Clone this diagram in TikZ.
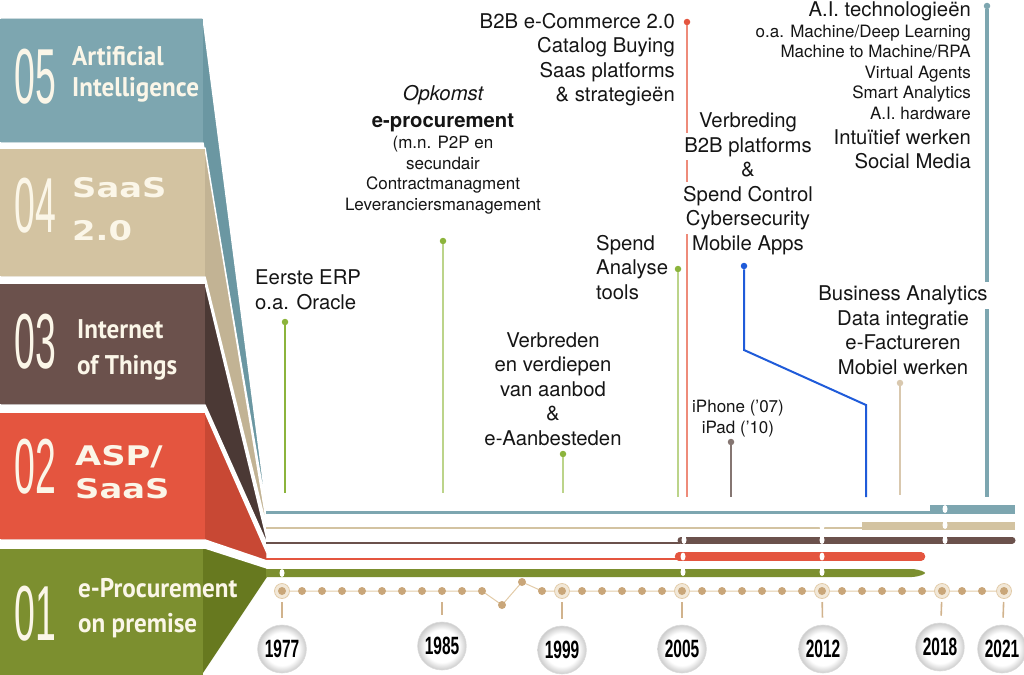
\documentclass[tikz,border=0pt]{standalone}
\usepackage{fontspec}
\setmainfont{TeX Gyre Heros}
\newfontfamily\numfont[FakeStretch=0.48]{Liberation Sans}
\newfontfamily\titlefont[FakeStretch=0.93]{PT Sans}
\newfontfamily\widefont[FakeStretch=1.25]{DejaVu Sans}
\newfontfamily\yearfont[FakeStretch=0.62]{Liberation Sans}
\usetikzlibrary{shapes.geometric}

\definecolor{tealA}{HTML}{7DA6B0}
\definecolor{tealB}{HTML}{6B97A2}
\definecolor{tanA}{HTML}{D3C3A1}
\definecolor{tanB}{HTML}{C2B394}
\definecolor{brownA}{HTML}{6B514C}
\definecolor{brownB}{HTML}{4B3935}
\definecolor{redA}{HTML}{E4553F}
\definecolor{redB}{HTML}{C84834}
\definecolor{greenA}{HTML}{7C8F2F}
\definecolor{greenB}{HTML}{67791F}
\definecolor{cream}{HTML}{FBF6E8}
\definecolor{gold}{HTML}{C9A679}
\definecolor{goldline}{HTML}{E2CBA8}
\definecolor{leaf}{HTML}{8CB43C}
\definecolor{leaflight}{HTML}{BCD48A}
\definecolor{salmon}{HTML}{EE8B7A}
\definecolor{mocha}{HTML}{857672}
\definecolor{royal}{HTML}{1F5BD9}
\definecolor{sand}{HTML}{D9C8AE}
\definecolor{ink}{HTML}{151515}

\pgfdeclareradialshading{yearball}{\pgfpoint{0bp}{0bp}}{color(0bp)=(white); color(17bp)=(white); color(25bp)=(black!20); color(50bp)=(black!20)}

\newcommand\wb[1]{\smash{\fboxsep=4pt\colorbox{white}{#1}}}

\tikzset{
  every node/.style={inner sep=0pt, text=ink},
  big/.style={font=\fontsize{20.3}{24.5}\selectfont},
  small/.style={font=\fontsize{17}{20.4}\selectfont},
  bandnum/.style={font=\numfont\fontsize{78}{78}\selectfont, text=cream, anchor=base west},
  bandtitle/.style={font=\titlefont\bfseries\fontsize{27}{31}\selectfont, text=cream, anchor=base west},
  bandwide/.style={font=\widefont\bfseries\fontsize{27}{31}\selectfont, text=cream, anchor=base west},
  stemdot/.style={circle, fill=#1, minimum size=6.5pt},
  tldot/.style={circle, fill=gold, minimum size=8pt},
  ring/.style={circle, fill=goldline!45, draw=goldline, line width=0.8pt, minimum size=15pt},
  hilite/.style={ellipse, fill=white, minimum width=5pt, minimum height=8pt},
  year/.style={ellipse, shade, shading=yearball, draw=black!14, line width=0.6pt,
    minimum width=39pt, minimum height=48pt, text=black,
    font=\yearfont\bfseries\fontsize{25}{25}\selectfont}
}

\begin{document}
\begin{tikzpicture}[x=1pt, y=-1pt]
\useasboundingbox (0,0) rectangle (1024,674);

\foreach \nm/\ytop/\ybot/\ya/\yb/\cA/\cB/\xr in {ai/18/143/510/514.5/tealA/tealB/203,
    saas/148/277/524.5/529/tanA/tanB/205, iot/283/405/539.5/544/brownA/brownB/205,
    asp/412/540/553/561/redA/redB/205} {
  \filldraw[fill=\cB, draw=white, line width=1.5pt, line join=round]
    (0,\ytop) -- (\xr,\ytop) -- (267,\ya) -- (267,\yb) -- (\xr,\ybot) -- (0,\ybot) -- cycle;
  \fill[\cA] (0,\ytop+1) rectangle (\xr,\ybot-1);
}
\filldraw[fill=greenB, draw=white, line width=1.5pt, line join=round]
  (0,548) -- (205,548) -- (267,568) -- (268,577) -- (202,676) -- (0,676) -- cycle;
\fill[greenA] (0,549) rectangle (203,676);

\foreach \nm/\num/\y in {ai/05/104, saas/04/232, iot/03/368, asp/02/493, ep/01/640}
  \node[bandnum] (\nm num) at (14,\y) {\num};
\foreach \x/\y/\txt [count=\i] in {72/66/Artificial, 72/96/Intelligence, 77/338/Internet,
    77/374/of Things, 78/597/e-Procurement, 78/632/on premise}
  \node[bandtitle] (title\i) at (\x,\y) {\txt};
\node[bandwide] (saas1) at (72,197) {SaaS};
\node[bandwide] (saas2) at (72,240) {2.0};
\node[bandwide] (asp1) at (75,465) {ASP/};
\node[bandwide] (asp2) at (75,498) {SaaS};

\draw[tealA, line width=2.2pt] (266,512.5) -- (930,512.5);
\fill[tealA] (930,505) rectangle (1015,514);
\draw[tanA, line width=2pt] (266,527.5) -- (862,527.5);
\fill[tanA] (862,522) rectangle (1015,530);
\draw[brownA, line width=2pt] (266,542.5) -- (680,542.5);
\draw[brownA, line width=7pt, line cap=round] (681,540) -- (1012,540);
\draw[redA, line width=2pt] (266,558.5) -- (678,558.5);
\draw[redA, line width=8.5pt, line cap=round] (679,556.5) -- (921,556.5);
\fill[greenA] (266,569) -- (912,569) .. controls (920,569.5) and (925,572) .. (925,573)
  .. controls (925,574) and (920,576.5) .. (912,577) -- (266,577) -- cycle;
\foreach \x/\y [count=\i] in {282/573, 683/572, 822/572, 683/556.5, 822/556.5, 684/540,
    822/540, 945/540, 822/526.5, 945/525, 945/509}
  \node[hilite] (hl\i) at (\x,\y) {};

\foreach \nm/\x/\ytop/\ybot/\dotcol/\col/\w in {erp/285/322/493/leaf/leaf/2,
    opk/443/241/493/leaf/leaflight/1.5, vdp/563/454/493/leaf/leaflight/1.5,
    spend/678/269/497/leaf/leaflight/1.5, b2b/687/22/497/redA/salmon/2,
    ipad/731/442/497/mocha/mocha/1.5, bi/900/383/495/sand/sand/2.5,
    ai/987/6/497/tealA/tealA/4} {
  \node[stemdot=\dotcol] (\nm dot) at (\x,\ytop) {};
  \coordinate (\nm foot) at (\x,\ybot);
  \draw[\col, line width=\w pt] (\nm dot) -- (\nm foot);
}
\node[stemdot=royal] (cyberdot) at (744,266) {};
\coordinate (cyberbendA) at (744,350);
\coordinate (cyberbendB) at (866,405);
\coordinate (cyberfoot) at (866,497);
\draw[royal, line width=2pt] (cyberdot) -- (cyberbendA) -- (cyberbendB) -- (cyberfoot);

\node[big, align=left, anchor=base west] (erp) at (255,309) {Eerste ERP\\o.a. Oracle};
\node[big, anchor=base] (opk) at (443,101) {\itshape Opkomst};
\node[big, anchor=base] (eproc) at (443,127) {\bfseries e-procurement};
\node[small, align=center, anchor=base] (p2p) at (443,210)
  {(m.n. P2P en\\secundair\\Contractmanagment\\Leveranciersmanagement};
\node[big, align=right, anchor=base east] (b2b) at (675,102)
  {B2B e-Commerce 2.0\\Catalog Buying\\Saas platforms\\\& strategieën};
\node[big, align=center, anchor=base] (vbr) at (748,250)
  {Verbreding\\\wb{B2B platforms}\\\&\\\wb{Spend Control}\\\wb{Cybersecurity}\\Mobile Apps};
\node[big, align=left, anchor=base west] (spend) at (596,299) {Spend\\Analyse\\tools};
\node[big, align=center, anchor=base] (vdp) at (553,445)
  {Verbreden\\en verdiepen\\van aanbod\\\&\\e-Aanbesteden};
\node[small, align=center, anchor=base] (ipad) at (738,433) {iPhone ('07)\\iPad ('10)};
\node[big, align=center, anchor=base] (bi) at (903,374)
  {\wb{Business Analytics}\\Data integratie\\e-Factureren\\Mobiel werken};
\node[big, anchor=base east] (aitech) at (971,17) {A.I. technologieën};
\node[small, align=right, anchor=base east] (aiset) at (971,119)
  {o.a. Machine/Deep Learning\\Machine to Machine/RPA\\Virtual Agents\\Smart Analytics\\A.I. hardware};
\node[big, align=right, anchor=base east] (aiwork) at (971,168.5) {Intuïtief werken\\Social Media};

\foreach \k in {0,...,35} {
  \pgfmathsetmacro\dx{282+20*\k}
  \pgfmathsetmacro\dy{\k==11 ? 605 : (\k==12 ? 582 : 591)}
  \coordinate (p\k) at (\dx,\dy);
}
\coordinate (p36) at (1004,591);
\draw[goldline, line width=1pt] (p0) \foreach \k in {1,...,36} { -- (p\k) };
\foreach \k in {0,14,20,27,33,36}
  \node[ring] (r\k) at (p\k) {};
\foreach \k in {0,...,36}
  \node[tldot] (d\k) at (p\k) {};
\foreach \yr/\x/\y in {1977/282/649, 1985/442/646, 1999/562/650, 2005/682/649,
    2012/823/649, 2018/940/647, 2021/1002/649}
  \node[year] (y\yr) at (\x,\y) {\yr};
\foreach \k/\yr in {0/1977, 8/1985, 14/1999, 20/2005, 27/2012, 33/2018, 36/2021}
  \draw[gold!85, line width=1.6pt, shorten <=11pt, shorten >=7pt] (p\k) -- (y\yr);
\end{tikzpicture}
\end{document}
